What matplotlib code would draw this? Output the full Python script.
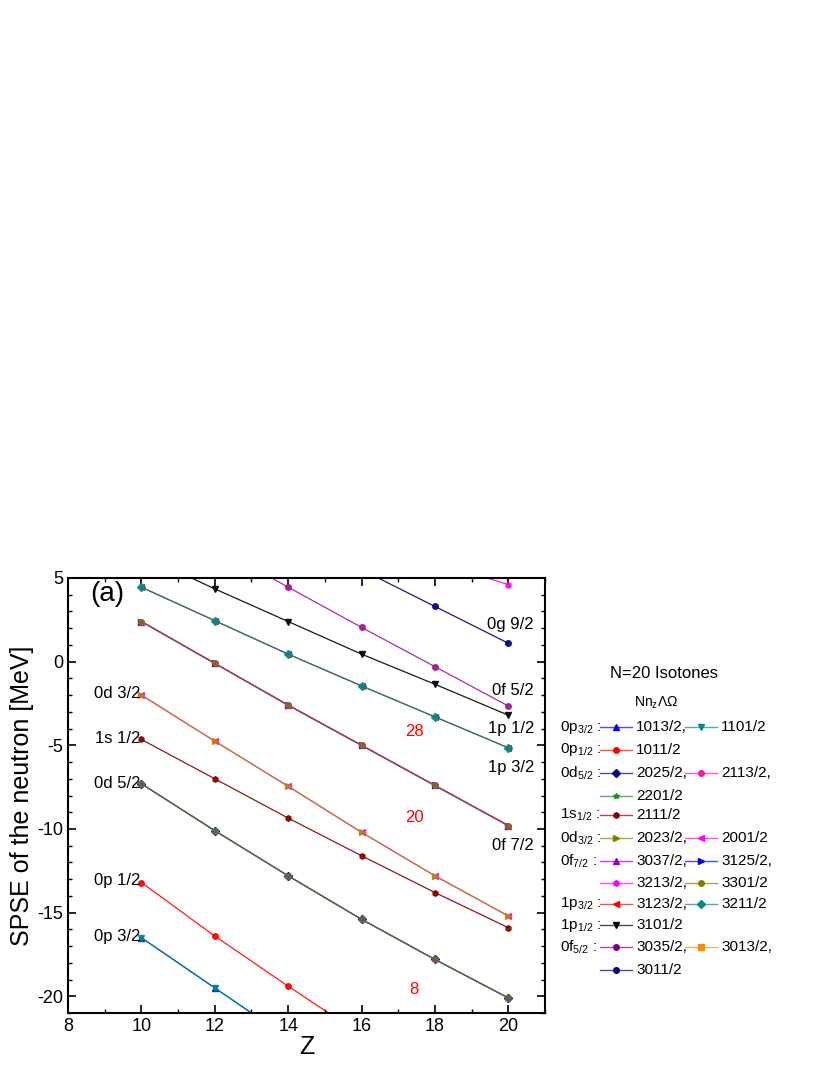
import matplotlib
matplotlib.use("Agg")
import matplotlib.pyplot as plt
from matplotlib.lines import Line2D
import numpy as np

plt.rcParams['font.family'] = 'Liberation Sans'
plt.rcParams['mathtext.fontset'] = 'custom'
plt.rcParams['mathtext.rm'] = 'Liberation Sans'
plt.rcParams['axes.unicode_minus'] = False

Z = [10, 12, 14, 16, 18, 20]
e_0p32 = [-16.5, -19.5, -22.5, np.nan, np.nan, np.nan]
e_0p12 = [-13.2, -16.4, -19.4, -22.3, np.nan, np.nan]
e_0d52 = [-7.3, -10.1, -12.8, -15.4, -17.8, -20.1]
e_1s12 = [-4.65, -7.0, -9.35, -11.6, -13.8, -15.9]
e_0d32 = [-2.0, -4.75, -7.45, -10.2, -12.8, -15.2]
e_0f72 = [2.4, -0.1, -2.6, -5.0, -7.4, -9.8]
e_1p32 = [4.45, 2.45, 0.45, -1.45, -3.3, -5.15]
e_1p12 = [6.4, 4.35, 2.4, 0.45, -1.35, -3.2]
e_0f52 = [9.2, 6.9, 4.45, 2.05, -0.3, -2.65]
e_0g92 = [np.nan, 9.9, 7.7, 5.5, 3.3, 1.1]
e_top = [np.nan, np.nan, np.nan, np.nan, 6.0, 4.6]

fig = plt.figure(figsize=(8.3, 10.75), dpi=100)
ax = fig.add_axes([68/830, 1-1013/1075, 477/830, 435/1075])

series = [
    (e_0p32, '#0000ff', '^'), (e_0p32, '#008b8b', 'v'),
    (e_0p12, '#ff0000', 'o'),
    (e_0d52, '#000080', 'D'), (e_0d52, '#ff1493', 'o'), (e_0d52, '#228b22', '*'),
    (e_1s12, '#800000', 'h'),
    (e_0d32, '#ff00ff', '<'), (e_0d32, '#b8860b', '>'),
    (e_0f72, '#9400d3', '^'), (e_0f72, '#0000ff', '>'), (e_0f72, '#ff00ff', 'h'), (e_0f72, '#8b6914', 'o'),
    (e_1p32, '#ff0000', '<'), (e_1p32, '#008b8b', 'D'),
    (e_1p12, '#000000', 'v'),
    (e_0f52, '#a0178f', 'o'),
    (e_0g92, '#000080', 'o'),
    (e_top, '#ff00ff', 'h'),
]
for vals, c, m in series:
    ax.plot(Z, vals, color=c, marker=m, ms=4, lw=0.9, alpha=0.9)

ax.set_xlim(8, 21)
ax.set_ylim(-21, 5)
ax.set_xticks([8, 10, 12, 14, 16, 18, 20])
ax.set_xticks(np.arange(8, 21.1, 1), minor=True)
ax.set_yticks([-20, -15, -10, -5, 0, 5])
ax.set_yticks(np.arange(-21, 5.1, 1), minor=True)
ax.tick_params(which='both', direction='in', top=True, right=True, labelsize=13)
ax.tick_params(which='major', length=6, width=1.2)
ax.tick_params(which='minor', length=3, width=1)
for s in ax.spines.values():
    s.set_linewidth(1.5)
ax.set_xlabel('Z', fontsize=18, labelpad=0)
ax.set_ylabel('SPSE of the neutron [MeV]', fontsize=18, labelpad=2)

ax.text(8.6, 3.6, '(a)', fontsize=20)
lab = [(-1.9, '0d 3/2'), (-4.6, '1s 1/2'), (-7.3, '0d 5/2'),
       (-13.1, '0p 1/2'), (-16.4, '0p 3/2')]
for y, t in lab:
    ax.text(9.97, y, t, fontsize=12, va='center', ha='right')
rlab = [(2.2, '0g 9/2'), (-1.7, '0f 5/2'), (-4.0, '1p 1/2'),
        (-6.3, '1p 3/2'), (-11.0, '0f 7/2')]
for y, t in rlab:
    ax.text(20.7, y, t, fontsize=12, va='center', ha='right')
for x, y, t in [(17.2, -4.2, '28'), (17.2, -9.3, '20'), (17.3, -19.6, '8')]:
    ax.text(x, y, t, fontsize=12, color='red', va='center')

def fx(px): return px/830
def fy(py): return 1-py/1075
fig.text(fx(610), fy(673), 'N=20 Isotones', fontsize=12, va='center')
fig.text(fx(634), fy(703), r'Nn$_{\rm z}\Lambda\Omega$', fontsize=10, va='center')
rows = [
    (727, r'0p$_{3/2}$ :', [('1013/2,', '#0000ff', '^'), ('1101/2', '#008b8b', 'v')]),
    (750, r'0p$_{1/2}$ :', [('1011/2', '#ff0000', 'o')]),
    (773, r'0d$_{5/2}$ :', [('2025/2,', '#000080', 'D'), ('2113/2,', '#ff1493', 'o')]),
    (796, None, [('2201/2', '#228b22', '*')]),
    (815, r'1s$_{1/2}$ :', [('2111/2', '#800000', 'h')]),
    (838, r'0d$_{3/2}$ :', [('2023/2,', '#808000', '>'), ('2001/2', '#ff00ff', '<')]),
    (861, r'0f$_{7/2}$ :', [('3037/2,', '#9400d3', '^'), ('3125/2,', '#0000ff', '>')]),
    (883, None, [('3213/2,', '#ff00ff', 'h'), ('3301/2', '#808000', 'o')]),
    (904, r'1p$_{3/2}$ :', [('3123/2,', '#ff0000', '<'), ('3211/2', '#008b8b', 'D')]),
    (925, r'1p$_{1/2}$ :', [('3101/2', '#000000', 'v')]),
    (947, r'0f$_{5/2}$ :', [('3035/2,', '#800080', 'o'), ('3013/2,', '#ff8c00', 's')]),
    (970, None, [('3011/2', '#000080', 'o')]),
]
for py, head, items in rows:
    if head:
        fig.text(fx(560), fy(py), head, fontsize=11, va='center')
    for i, (t, c, m) in enumerate(items):
        x0 = 600 + i * 85
        fig.add_artist(Line2D([fx(x0), fx(x0 + 32)], [fy(py), fy(py)], color=c, lw=1,
                              alpha=0.7, transform=fig.transFigure))
        fig.add_artist(Line2D([fx(x0 + 16)], [fy(py)], color=c, marker=m, ms=4,
                              transform=fig.transFigure))
        fig.text(fx(x0 + 36), fy(py), t, fontsize=11, va='center')

fig.savefig('out.png', dpi=100)
